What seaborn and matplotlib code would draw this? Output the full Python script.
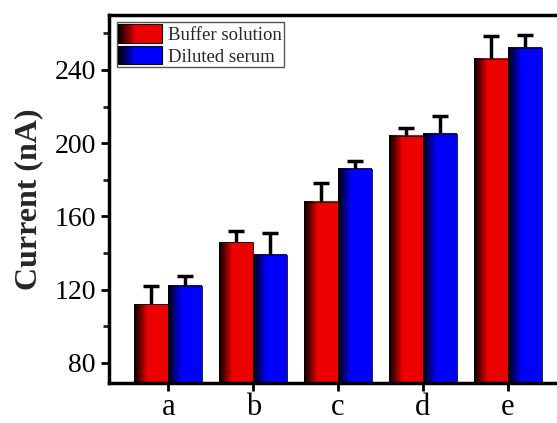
import numpy as np
import pandas as pd
import matplotlib
matplotlib.use("Agg")
import matplotlib.pyplot as plt
import seaborn as sns
from matplotlib.patches import Rectangle
from matplotlib.legend_handler import HandlerBase
from matplotlib.ticker import MultipleLocator

samples = ["a", "b", "c", "d", "e"]
series = ["Buffer solution", "Diluted serum"]
buffer_vals = [112, 146, 168, 204, 246]
serum_vals = [122, 139, 186, 205, 252]
buffer_err = [10, 6, 10, 4.5, 12.5]
serum_err = [5.5, 12, 4.5, 10, 7]

red = (0.93, 0.0, 0.0)
blue = (0.0, 0.0, 1.0)
colors = [red, blue]
grad_frac = 0.4  # part of the bar width that fades from black

df = pd.DataFrame({
    "sample": samples * 2,
    "medium": [series[0]] * 5 + [series[1]] * 5,
    "current": buffer_vals + serum_vals,
    "err": buffer_err + serum_err,
})

sns.set_style("ticks")
plt.rcParams["font.family"] = ["Liberation Serif", "DejaVu Serif"]

fig = plt.figure(figsize=(5.57, 4.23), dpi=100)
ax = fig.add_axes([0.1957, 0.0946, 0.81, 0.87])

sns.barplot(data=df, x="sample", y="current", hue="medium", palette=colors,
            width=0.8, errorbar=None, edgecolor="black", linewidth=0.6,
            legend=False, ax=ax)


def gradient(c, n=200):
    t = np.linspace(0, 1, n)
    f = np.clip(t / grad_frac, 0, 1)
    return (f[:, None] * np.array(c)[None, :])[None, :, :]


xlim = (-0.7, 4.62)
ylim = (69, 270)

bars = [p for p in ax.patches if isinstance(p, Rectangle) and p.get_width() > 0]
for i, p in enumerate(bars):
    c = colors[i // len(samples)]
    x0, y0, w, h = p.get_x(), p.get_y(), p.get_width(), p.get_height()
    top = y0 + h
    ax.imshow(gradient(c), extent=[x0, x0 + w, max(y0, ylim[0]), top], aspect="auto",
              interpolation="bilinear", zorder=2)
    p.set_facecolor("none")
    p.set_zorder(3)
    err = df["err"].iloc[i]
    eb = ax.errorbar(x0 + w / 2, top, yerr=[[0], [err]], fmt="none", ecolor="black",
                     elinewidth=2.5, capsize=6, capthick=2.5, zorder=4)
    eb[1][0].set_visible(False)

ax.set_xlim(*xlim)
ax.set_ylim(*ylim)
ax.set_yticks([80, 120, 160, 200, 240])
ax.yaxis.set_minor_locator(MultipleLocator(20))
ax.tick_params(axis="both", which="major", direction="out", length=6, width=2,
               labelsize=20, colors="black")
ax.tick_params(axis="x", labelsize=22, pad=1.5)
ax.tick_params(axis="y", which="minor", direction="out", length=4, width=2)
ax.set_xlabel("")
ax.set_ylabel("Current (nA)", fontsize=23, fontweight="bold", labelpad=8)

for s in ["left", "top", "bottom"]:
    ax.spines[s].set_linewidth(2.5)
    ax.spines[s].set_color("black")
ax.spines["right"].set_visible(False)


class GradHandler(HandlerBase):
    def __init__(self, color):
        super().__init__()
        self.color = color

    def create_artists(self, legend, orig_handle, xdescent, ydescent, width,
                       height, fontsize, trans):
        arts = []
        n = 20
        gw = width * grad_frac / n
        for k in range(n):
            f = (k + 0.5) / n
            arts.append(Rectangle((-xdescent + k * gw, -ydescent), gw * 1.05, height,
                                  facecolor=tuple(f * v for v in self.color),
                                  edgecolor="none", transform=trans))
        arts.append(Rectangle((-xdescent + width * grad_frac, -ydescent),
                              width * (1 - grad_frac), height, facecolor=self.color,
                              edgecolor="none", transform=trans))
        arts.append(Rectangle((-xdescent, -ydescent), width, height,
                              facecolor="none", edgecolor="black", linewidth=0.8,
                              transform=trans))
        return arts


handles = [Rectangle((0, 0), 1, 1, facecolor=c) for c in colors]
leg = ax.legend(handles, series, loc="upper left", fontsize=13.5,
                handler_map={handles[0]: GradHandler(red), handles[1]: GradHandler(blue)},
                handlelength=2.35, handleheight=1.15, handletextpad=0.3,
                labelspacing=0.1, borderpad=0.1, borderaxespad=0.4,
                fancybox=False, framealpha=1)
leg.get_frame().set_edgecolor("#555555")
leg.get_frame().set_linewidth(1)

fig.savefig("out.png", dpi=100)
